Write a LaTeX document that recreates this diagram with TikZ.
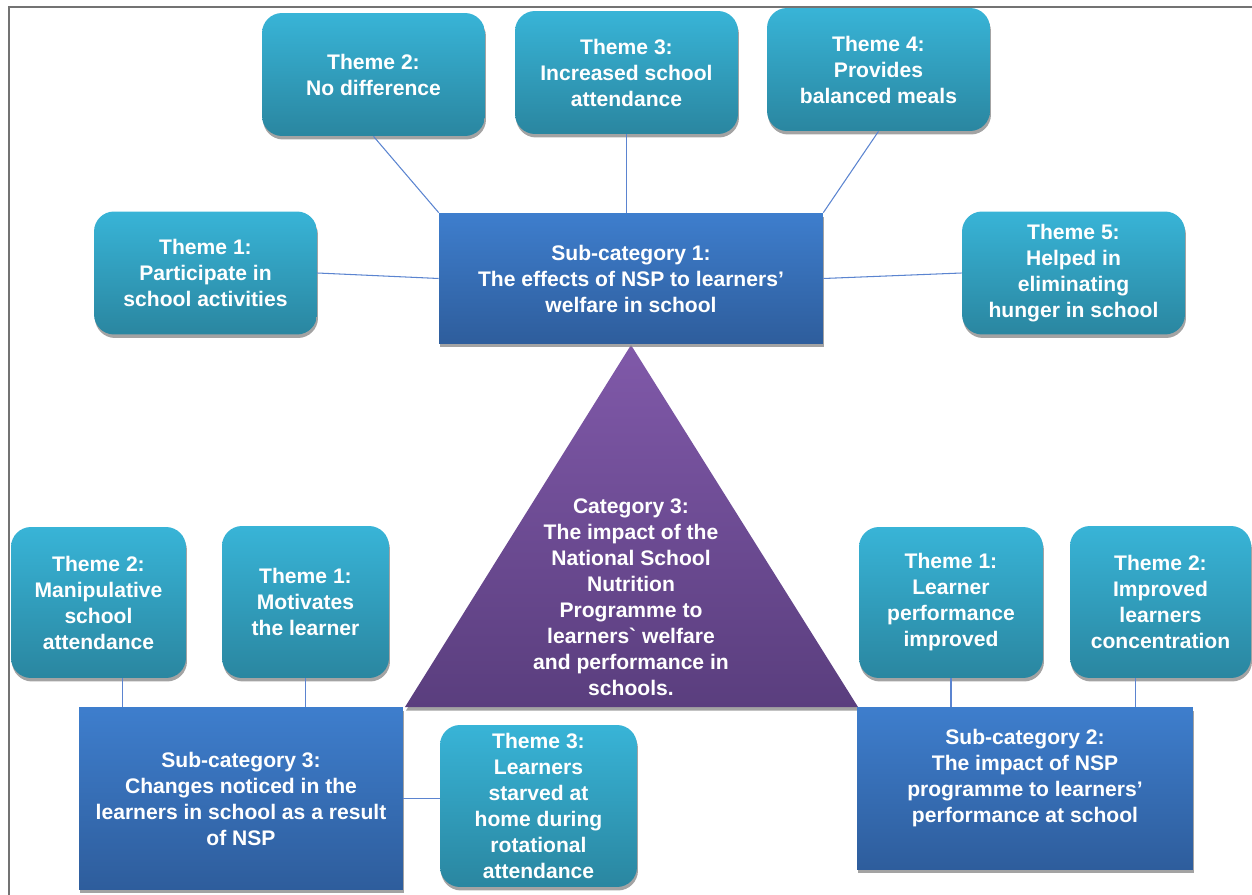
\documentclass[tikz,border=0pt]{standalone}
\usepackage{fontspec}
\setmainfont{Liberation Sans}
\usetikzlibrary{shadows}
\definecolor{themetop}{HTML}{38B4D7}
\definecolor{themebot}{HTML}{2A86A0}
\definecolor{subtop}{HTML}{3E7ECD}
\definecolor{subbot}{HTML}{2E5D9C}
\definecolor{tritop}{HTML}{8059A9}
\definecolor{tribot}{HTML}{5A3E7E}
\definecolor{linkblue}{HTML}{5B84D0}
\begin{document}
\begin{tikzpicture}[x=0.02cm,y=-0.02cm,
    every node/.style={font=\bfseries\fontsize{12}{14.8}\selectfont,text=white,align=center},
    shade/.style={drop shadow={shadow xshift=0.02cm,shadow yshift=-0.07cm,fill=black!45,opacity=0.8}},
    theme/.style={shade,rounded corners=0.4cm,top color=themetop,bottom color=themebot},
    themebig/.style={theme,minimum width=4.46cm,minimum height=2.46cm},
    subcat/.style={shade,top color=subtop,bottom color=subbot},
    link/.style={draw=linkblue,line width=0.6pt}]
    \useasboundingbox (0,0) rectangle (1252,895);
    \draw[black!55,line width=1.2pt] (9,895) -- (9,7) -- (1252,7);
    % category triangle
    \coordinate (apex) at (631,345);
    \coordinate (baseR) at (858,707);
    \coordinate (baseL) at (405,707);
    \path[shade,top color=tritop,bottom color=tribot] (apex) -- (baseR) -- (baseL) -- cycle;
    \node (cat) at (631,597) {Category 3:\\The impact of the\\National School\\Nutrition\\Programme to\\learners\textasciigrave{} welfare\\and performance in\\schools.};
    % sub-category 1 and its themes
    \node at (631,278.5) [subcat,minimum width=7.68cm,minimum height=2.62cm] (sub1)
      {Sub-category 1:\\The effects of NSP to learners’\\welfare in school};
    \node at (205.5,273) [themebig] (t1a) {Theme 1:\\Participate in\\school activities};
    \node at (373.5,74.5) [themebig] (t2a) {Theme 2:\\No difference};
    \node at (626.5,72.5) [themebig] (t3a) {Theme 3:\\Increased school\\attendance};
    \node at (878.5,69.5) [themebig] (t4a) {Theme 4:\\Provides\\balanced meals};
    \node at (1073.5,273) [themebig] (t5a) {Theme 5:\\Helped in\\eliminating\\hunger in school};
    \draw[link] (t2a.south) -- (sub1.north west);
    \draw[link] (t3a.south) -- (t3a.south |- sub1.north);
    \draw[link] (t4a.south) -- (sub1.north east);
    \draw[link] (t1a.east) -- (sub1.west);
    \draw[link] (t5a.west) -- (sub1.east);
    % sub-category 3 and its themes
    \node at (241,798.5) [subcat,minimum width=6.48cm,minimum height=3.66cm] (sub3)
      {Sub-category 3:\\Changes noticed in the\\learners in school as a result\\of NSP};
    \node at (98.5,602.5) [theme,minimum width=3.5cm,minimum height=3.02cm] (t2c)
      {Theme 2:\\Manipulative\\school\\attendance};
    \node at (305.5,602) [theme,minimum width=3.34cm,minimum height=3.04cm] (t1c)
      {Theme 1:\\Motivates\\the learner};
    \node at (538.5,806) [theme,minimum width=3.94cm,minimum height=3.24cm] (t3c)
      {Theme 3:\\Learners\\starved at\\home during\\rotational\\attendance};
    \draw[link] ([xshift=0.48cm]t2c.south) -- ([xshift=0.48cm]t2c.south |- sub3.north);
    \draw[link] (t1c.south) -- (t1c.south |- sub3.north);
    \draw[link] (sub3.east) -- (sub3.east -| t3c.west);
    % sub-category 2 and its themes
    \node at (1025,788.5) [subcat,minimum width=6.72cm,minimum height=3.26cm] (sub2)
      {Sub-category 2:\\The impact of NSP\\programme to learners’\\performance at school\\ \mbox{}};
    \node at (951,602.5) [theme,minimum width=3.68cm,minimum height=3.02cm] (t1b)
      {Theme 1:\\Learner\\performance\\improved};
    \node at (1160.5,602) [theme,minimum width=3.62cm,minimum height=3.04cm] (t2b)
      {Theme 2:\\Improved\\learners\\concentration};
    \draw[link] (t1b.south) -- (t1b.south |- sub2.north);
    \draw[link] ([xshift=-0.5cm]t2b.south) -- ([xshift=-0.5cm]t2b.south |- sub2.north);
\end{tikzpicture}
\end{document}
